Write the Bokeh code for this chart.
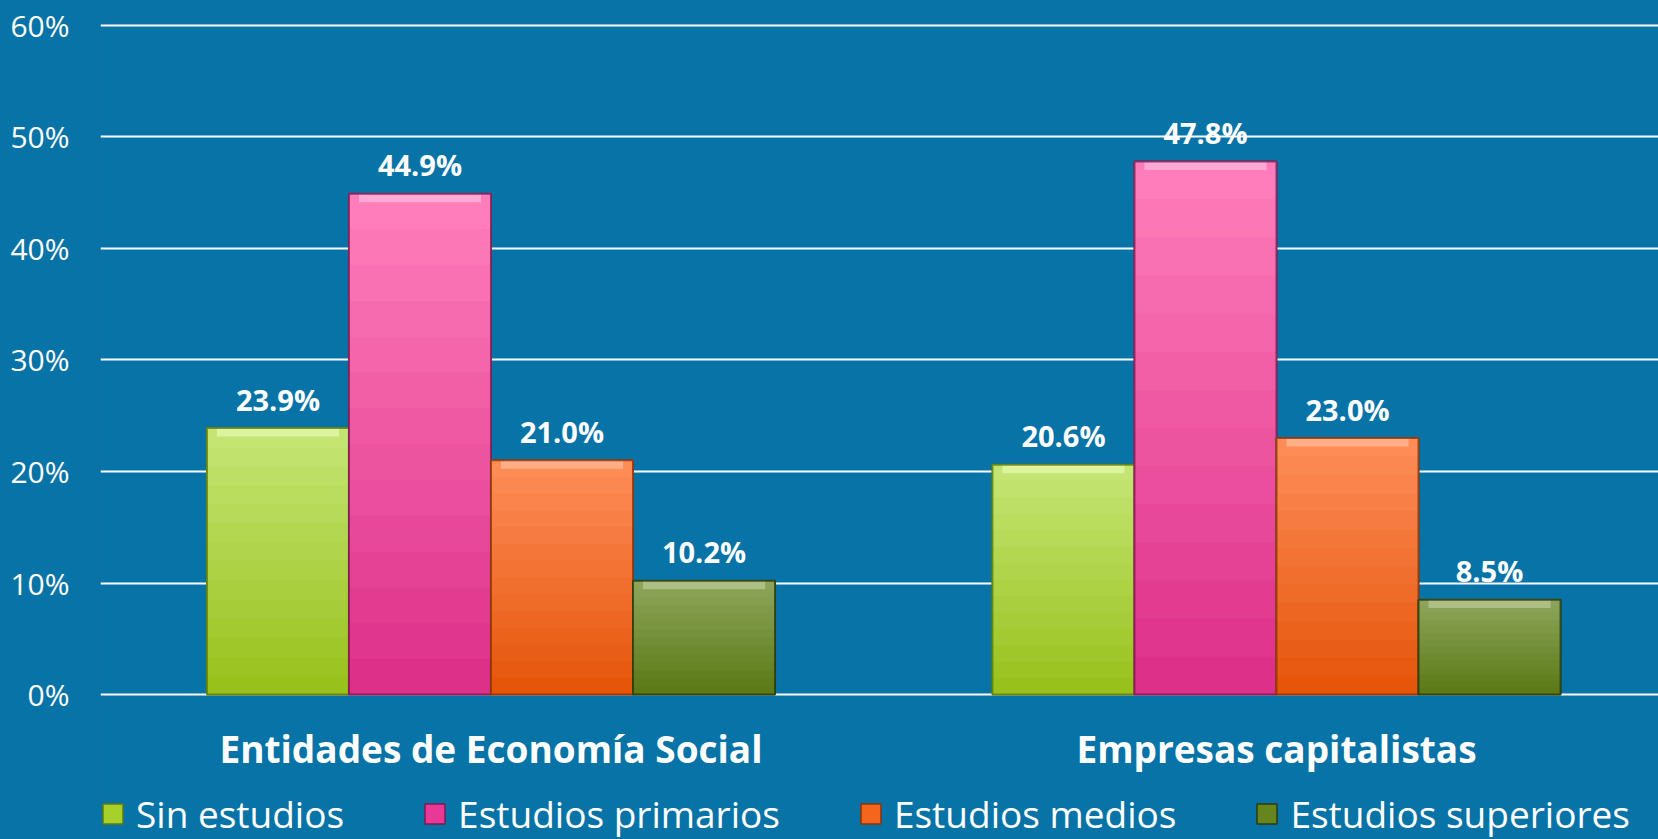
from bokeh.plotting import figure
from bokeh.models import ColumnDataSource, Range1d, FixedTicker, PrintfTickFormatter, Legend, LegendItem
from bokeh.transform import dodge
from bokeh.core.properties import value
from bokeh.core.templates import get_env
from bokeh.embed import file_html
from bokeh.resources import INLINE

# ---- data ----
groups = ["Entidades de Economía Social", "Empresas capitalistas"]
series = ["Sin estudios", "Estudios primarios", "Estudios medios", "Estudios superiores"]
sin_estudios = [23.9, 20.6]
estudios_primarios = [44.9, 47.8]
estudios_medios = [21.0, 23.0]
estudios_superiores = [10.2, 8.5]
y_ticks = [0, 10, 20, 30, 40, 50, 60]

values_by_series = [sin_estudios, estudios_primarios, estudios_medios, estudios_superiores]

# ---- style ----
BG = "#0873a6"
mids = ["#a8d02a", "#ea3896", "#f4661b", "#66851d"]
bottoms = ["#97c019", "#dc2d87", "#e45408", "#5a7814"]
tops_c = ["#c6e676", "#ff80bc", "#ff8e5a", "#8ea65c"]
bevel = ["#e2f6a6", "#ffb0d8", "#ffb48e", "#b4c48e"]
edges = ["#5e7a0e", "#7e1a50", "#8a3508", "#2c3a0a"]
FONT = "Open Sans"
bar_w = 0.1808
offsets = [-1.5 * bar_w, -0.5 * bar_w, 0.5 * bar_w, 1.5 * bar_w]
N_BANDS = 14


def hex2rgb(h):
    h = h.lstrip("#")
    return tuple(int(h[i:i + 2], 16) for i in (0, 2, 4))


def mix(a, b, t):
    ra, rb = hex2rgb(a), hex2rgb(b)
    return "#%02x%02x%02x" % tuple(int(round(x + (y - x) * t)) for x, y in zip(ra, rb))


# frame runs from just above the 60% line down to the bottom of the page,
# so the category names and the legend can live inside it
p = figure(width=1658, height=839,
           x_range=Range1d(-0.4971, 1.4863), y_range=Range1d(-13.004, 60.179),
           output_backend="svg", toolbar_location=None, x_axis_location=None,
           min_border_left=100, min_border_right=0, min_border_top=23, min_border_bottom=0,
           background_fill_color=BG, border_fill_color=BG, outline_line_color=None)

p.xgrid.grid_line_color = None
p.ygrid.grid_line_color = "white"
p.ygrid.grid_line_width = 2
p.ygrid.ticker = FixedTicker(ticks=y_ticks)

yax = p.yaxis[0]
yax.ticker = FixedTicker(ticks=y_ticks)
yax.formatter = PrintfTickFormatter(format="%d%%")
yax.axis_line_color = None
yax.major_tick_line_color = None
yax.minor_tick_line_color = None
yax.major_tick_out = 0
yax.major_label_standoff = 31
yax.major_label_text_color = "white"
yax.major_label_text_font = FONT
yax.major_label_text_font_size = "30px"

# category names under each group
gsrc = ColumnDataSource(dict(x=[0, 1], y=[0, 0], name=groups))
p.text(x="x", y="y", text="name", source=gsrc, text_align="center",
       text_baseline="alphabetic", y_offset=54, text_color="white",
       text_font=value(FONT), text_font_style="bold", text_font_size="37px")

items = []
for i, (name, vals) in enumerate(zip(series, values_by_series)):
    xd = dodge("x", offsets[i], range=p.x_range)
    src = ColumnDataSource(dict(x=[0, 1], top=vals,
                                band=[v - 0.75 for v in vals],
                                label=[f"{v:.1f}%" for v in vals]))
    r = p.vbar(x=xd, top="top", bottom=0, width=bar_w, source=src,
               fill_color=mids[i], line_color=edges[i], line_width=1.5)
    # vertical gradient: bands spanning fractions of each bar's own value
    for k in range(N_BANDS):
        c = mix(bottoms[i], tops_c[i], (k + 0.5) / N_BANDS)
        bsrc = ColumnDataSource(dict(x=[0, 1],
                                     b=[v * k / N_BANDS for v in vals],
                                     t=[v * (k + 1) / N_BANDS for v in vals]))
        p.vbar(x=xd, top="t", bottom="b", width=bar_w, source=bsrc,
               fill_color=c, line_color=c, line_width=0.6)
    # bevel highlight on top and dark edge
    p.vbar(x=xd, top="top", bottom="band", width=bar_w * 0.86, source=src,
           fill_color=bevel[i], fill_alpha=0.85, line_color=None)
    p.vbar(x=xd, top="top", bottom=0, width=bar_w, source=src,
           fill_alpha=0, line_color=edges[i], line_alpha=0.8, line_width=2)
    p.text(x=xd, y="top", text="label", source=src,
           text_align="center", text_baseline="middle", y_offset=-29,
           text_color="white", text_font=value(FONT), text_font_style="bold",
           text_font_size="29px")
    items.append(LegendItem(label=name, renderers=[r]))

legend = Legend(items=items, orientation="horizontal", location=(0, 0),
                glyph_width=25, glyph_height=25, label_standoff=11, spacing=78,
                padding=0, margin=0, background_fill_alpha=0, border_line_color=None,
                label_text_color="white", label_text_font=FONT,
                label_text_font_size="37px")
p.add_layout(legend, "center")

# page background in the chart's blue, so no seams show between frame and border
template = get_env().from_string(
    '{% extends "file.html" %}'
    '{% block preamble %}<style>html, body { background: #0873a6; }</style>{% endblock %}'
)

open("out.html", "w").write(file_html(p, INLINE, template=template))
